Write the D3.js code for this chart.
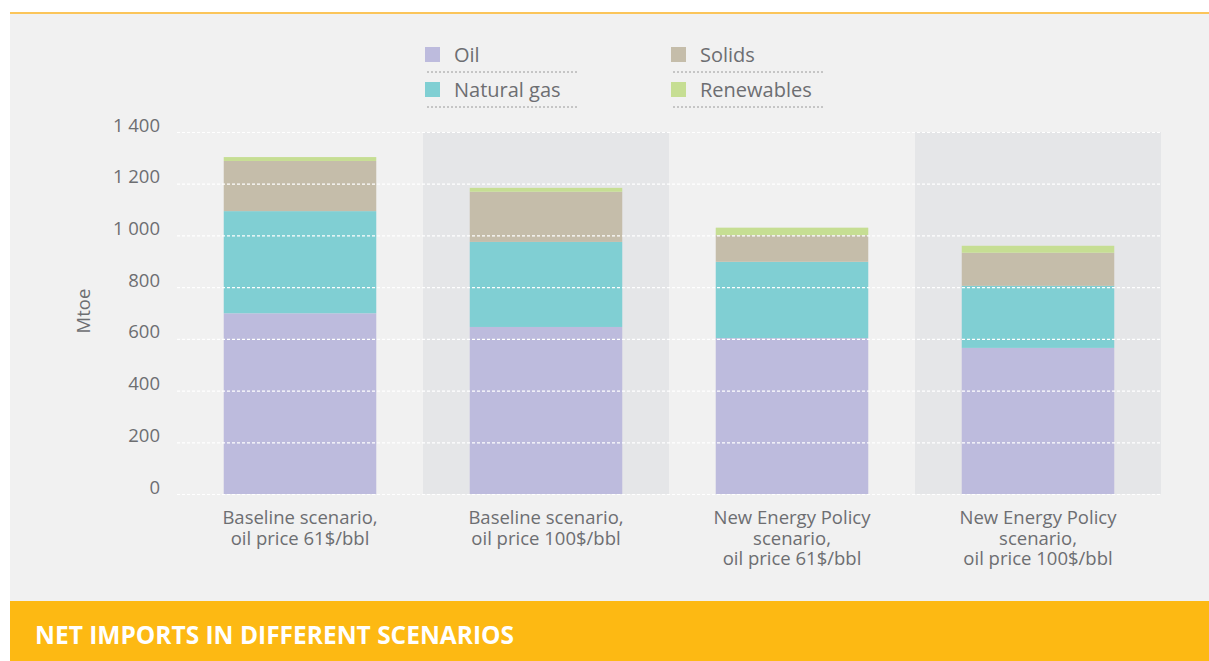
<!DOCTYPE html>
<html>
<head>
<meta charset="utf-8">
<script src="https://cdn.jsdelivr.net/npm/d3@7"></script>
<style>
  body { margin: 0; background: #fff; }
  svg { display: block; font-family: "Open Sans", sans-serif; }
</style>
</head>
<body>
<div id="chart"></div>
<script>
var scenarios = [
    ["Baseline scenario,", "oil price 61$/bbl"],
    ["Baseline scenario,", "oil price 100$/bbl"],
    ["New Energy Policy", "scenario,", "oil price 61$/bbl"],
    ["New Energy Policy", "scenario,", "oil price 100$/bbl"]
];
var seriesNames = ["Oil", "Natural gas", "Solids", "Renewables"];
var oil = [699, 646, 603, 565];
var gas = [395, 329, 295, 240];
var solids = [194, 194, 103, 128];
var renewables = [15, 15, 29, 27];
var yTicks = [0, 200, 400, 600, 800, 1000, 1200, 1400];
var title = "NET IMPORTS IN DIFFERENT SCENARIOS";

var colors = {
    "Oil": "#bdbbdd",
    "Natural gas": "#80cfd3",
    "Solids": "#c5bdaa",
    "Renewables": "#c6de93"
};

var rows = scenarios.map(function (s, i) {
    return { idx: i, "Oil": oil[i], "Natural gas": gas[i], "Solids": solids[i], "Renewables": renewables[i] };
});
var stacked = d3.stack().keys(seriesNames)(rows);

var svg = d3.select("#chart").append("svg")
    .attr("width", 1209)
    .attr("height", 661);

// panel + top line
svg.append("rect").attr("x", 10).attr("y", 12).attr("width", 1199).attr("height", 589).attr("fill", "#f1f1f1");
svg.append("rect").attr("x", 10).attr("y", 12).attr("width", 1199).attr("height", 2).attr("fill", "#fbc55a");

var x = d3.scaleBand().domain(d3.range(scenarios.length)).range([177, 1161]);
var y = d3.scaleLinear().domain([0, 1400]).range([494, 132]);
var barW = x.bandwidth() * 0.62;

// shaded columns
svg.selectAll("rect.band")
    .data([1, 3]).enter().append("rect")
    .attr("class", "band")
    .attr("x", d => x(d))
    .attr("y", y(1400))
    .attr("width", x.bandwidth())
    .attr("height", y(0) - y(1400))
    .attr("fill", "#e5e6e8");

// bars
svg.selectAll("g.layer")
    .data(stacked).enter().append("g")
    .attr("class", "layer")
    .attr("fill", d => colors[d.key])
    .selectAll("rect")
    .data(d => d).enter().append("rect")
    .attr("x", d => x(d.data.idx) + (x.bandwidth() - barW) / 2)
    .attr("y", d => y(d[1]))
    .attr("width", barW)
    .attr("height", d => y(d[0]) - y(d[1]));

// gridlines on top
var yAxis = d3.axisLeft(y).tickValues(yTicks).tickSize(-(1161 - 177))
    .tickFormat(d => d3.format(",")(d).replace(",", " "));
var gy = svg.append("g")
    .attr("transform", "translate(" + 177 + ",0)")
    .call(yAxis);
gy.select(".domain").remove();
gy.selectAll(".tick line")
    .attr("stroke", "#fff")
    .attr("stroke-width", 1.2)
    .attr("stroke-dasharray", "3,2");
gy.selectAll(".tick text")
    .attr("x", -17)
    .attr("dy", "-0.05em")
    .attr("fill", "#6d6e71")
    .style("font-size", "18.5px")
    .style("font-family", "Open Sans, sans-serif");

// y label
svg.append("g")
    .attr("transform", "translate(" + 90 + ", " + 311 + ")")
    .append("text")
    .attr("transform", "rotate(-90)")
    .attr("text-anchor", "middle")
    .attr("fill", "#6d6e71")
    .style("font-size", "18.5px")
    .text("Mtoe");

// category labels, one text per line
var catLines = [];
scenarios.forEach(function (lines, i) {
    lines.forEach(function (t, j) { catLines.push({ i: i, j: j, t: t }); });
});
svg.selectAll("text.cat")
    .data(catLines).enter().append("text")
    .attr("class", "cat")
    .attr("text-anchor", "middle")
    .attr("fill", "#6d6e71")
    .style("font-size", "18.5px")
    .attr("x", d => x(d.i) + x.bandwidth() / 2)
    .attr("y", d => 524 + d.j * 20.5)
    .text(d => d.t);

// legend
var legendPos = [
    { x: 425, y: 47 }, { x: 425, y: 82 },
    { x: 671, y: 47 }, { x: 671, y: 82 }
];
var lg = svg.selectAll("g.legend")
    .data(seriesNames).enter().append("g")
    .attr("class", "legend")
    .attr("transform", (d, i) => "translate(" + legendPos[i].x + "," + legendPos[i].y + ")");
lg.append("rect")
    .attr("width", 15).attr("height", 15)
    .attr("fill", d => colors[d]);
lg.append("text")
    .attr("x", 29).attr("y", 15)
    .attr("fill", "#6d6e71")
    .style("font-size", "20px")
    .text(d => d);
lg.append("line")
    .attr("x1", 2).attr("x2", 154)
    .attr("y1", 25).attr("y2", 25)
    .attr("stroke", "#9a9a9a")
    .attr("stroke-width", 1)
    .attr("stroke-dasharray", "2,2");

// footer
svg.append("rect").attr("x", 10).attr("y", 601).attr("width", 1199).attr("height", 60).attr("fill", "#fdb913");
svg.append("text")
    .attr("x", 35).attr("y", 644)
    .attr("fill", "#fff")
    .style("font-size", "24.5px")
    .style("font-weight", "bold")
    .text(title);
</script>
</body>
</html>
